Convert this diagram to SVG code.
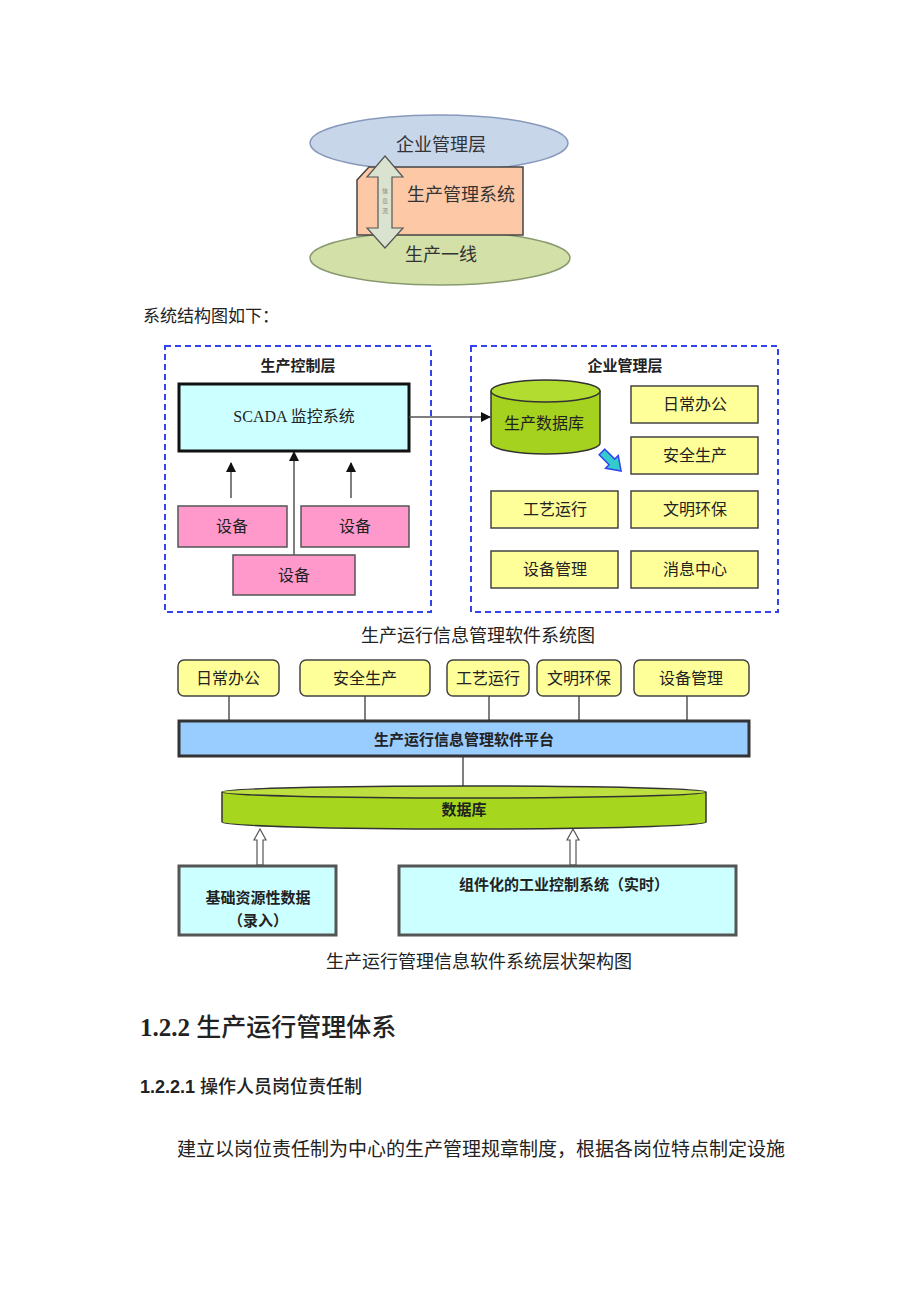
<svg xmlns="http://www.w3.org/2000/svg" width="920" height="1302" viewBox="0 0 920 1302">
<style>
text{font-family:"Liberation Serif","Noto Sans CJK SC",serif;fill:#222}
.c{text-anchor:middle}
.b{font-weight:bold}
.dash{fill:none;stroke:#3344ee;stroke-width:2;stroke-dasharray:6,4}
.pink{fill:#ff99cc;stroke:#555;stroke-width:1.5}
.yel{fill:#ffff99;stroke:#444;stroke-width:1.5}
.cy{fill:#ccffff}
.ln{stroke:#555;stroke-width:1.5;fill:none}
</style>
<defs>
<marker id="ah" markerWidth="10" markerHeight="10" refX="9" refY="5" orient="auto" markerUnits="userSpaceOnUse">
<path d="M0,0 L10,5 L0,10 z" fill="#111"/>
</marker>
</defs>
<rect width="920" height="1302" fill="#fff"/>

<!-- Figure 1 -->
<g id="fig1">
<g id="top-ellipse"><ellipse cx="439" cy="143" rx="129" ry="28" fill="#c8d6ea" stroke="#8899bb" stroke-width="1.5"/>
<text x="441" y="151" class="c" font-size="18" style="fill:#333">企业管理层</text></g>
<g id="bottom-ellipse"><ellipse cx="440" cy="258" rx="130" ry="27" fill="#d3e0a8" stroke="#8a9a70" stroke-width="1.5"/>
<text x="441" y="261" class="c" font-size="18" style="fill:#333">生产一线</text></g>
<g id="block"><polygon points="357,180 369,167 523,167 523,235 357,235" fill="#fcc8a6" stroke="#444" stroke-width="1.5"/>
<text x="461" y="201" class="c" font-size="18" style="fill:#333">生产管理系统</text></g>
<g id="dbl-arrow"><polygon points="385,156 403,177 392,177 392,228 403,228 385,248 367,228 378,228 378,177 367,177" fill="#d9e3cf" stroke="#555" stroke-width="1.2"/>
<text font-size="6" class="c" style="fill:#888"><tspan x="385" y="193">信</tspan><tspan x="385" y="203">息</tspan><tspan x="385" y="213">流</tspan></text></g>
</g>

<text x="143" y="322" font-size="17">系统结构图如下：</text>

<!-- Figure 2 -->
<g id="ctrl-layer">
<rect x="165" y="346" width="266" height="266" class="dash"/>
<text x="298" y="371" class="c b" font-size="15">生产控制层</text>
</g>
<g id="scada"><rect x="179" y="384" width="230" height="67" fill="#ccffff" stroke="#111" stroke-width="3"/>
<text x="294" y="422" class="c" font-size="16">SCADA 监控系统</text></g>
<g id="dev1"><rect x="178" y="506" width="109" height="41" class="pink"/><text x="232" y="532" class="c" font-size="16">设备</text></g>
<g id="dev2"><rect x="301" y="506" width="108" height="41" class="pink"/><text x="355" y="532" class="c" font-size="16">设备</text></g>
<g id="dev3"><rect x="233" y="555" width="122" height="40" class="pink"/><text x="294" y="581" class="c" font-size="16">设备</text></g>

<g id="mgmt-layer">
<rect x="471" y="346" width="307" height="266" class="dash"/>
<text x="625" y="371" class="c b" font-size="15">企业管理层</text>
</g>
<g id="proddb">
<path d="M491,391 L491,443 A54.5,11 0 0 0 600,443 L600,391" fill="#a4d21e" stroke="#333" stroke-width="1.5"/>
<ellipse cx="545.5" cy="391" rx="54.5" ry="11" fill="#b2dc30" stroke="#333" stroke-width="1.5"/>
<text x="544" y="429" class="c" font-size="16">生产数据库</text></g>
<g id="m1"><rect x="631" y="386" width="127" height="37" class="yel"/><text x="695" y="410" class="c" font-size="16">日常办公</text></g>
<g id="m2"><rect x="631" y="437" width="127" height="37" class="yel"/><text x="695" y="461" class="c" font-size="16">安全生产</text></g>
<g id="m3"><rect x="631" y="491" width="127" height="37" class="yel"/><text x="695" y="515" class="c" font-size="16">文明环保</text></g>
<g id="m4"><rect x="631" y="551" width="127" height="37" class="yel"/><text x="695" y="575" class="c" font-size="16">消息中心</text></g>
<g id="m5"><rect x="491" y="491" width="127" height="37" class="yel"/><text x="555" y="515" class="c" font-size="16">工艺运行</text></g>
<g id="m6"><rect x="491" y="551" width="127" height="37" class="yel"/><text x="555" y="575" class="c" font-size="16">设备管理</text></g>

<g id="connectors2">
<line x1="231" y1="498" x2="231" y2="463" class="ln" marker-end="url(#ah)"/>
<line x1="351" y1="498" x2="351" y2="463" class="ln" marker-end="url(#ah)"/>
<line x1="294" y1="555" x2="294" y2="452" class="ln" marker-end="url(#ah)"/>
<line x1="409" y1="417" x2="490" y2="417" class="ln" stroke="#333" marker-end="url(#ah)"/>
<polygon transform="translate(602,452) rotate(45)" points="0,-4 14,-4 14,-9 27,0 14,9 14,4 0,4" fill="#33cccc" stroke="#3344ee" stroke-width="1.5"/>
</g>

<text x="478" y="642" class="c" font-size="18">生产运行信息管理软件系统图</text>

<!-- Figure 3 -->
<g id="connectors3">
<line x1="229" y1="696" x2="229" y2="720" class="ln"/>
<line x1="365" y1="696" x2="365" y2="720" class="ln"/>
<line x1="489" y1="696" x2="489" y2="720" class="ln"/>
<line x1="579" y1="696" x2="579" y2="720" class="ln" stroke="#222"/>
<line x1="687" y1="696" x2="687" y2="720" class="ln"/>
<line x1="463" y1="756" x2="463" y2="786" class="ln"/>
<polygon points="260,829 266,840 263,840 263,865 257,865 257,840 254,840" fill="#fff" stroke="#555" stroke-width="1.2"/>
<polygon points="573,829 579,840 576,840 576,865 570,865 570,840 567,840" fill="#fff" stroke="#555" stroke-width="1.2"/>
</g>
<g id="t1"><rect x="178" y="660" width="101" height="36" rx="6" class="yel"/><text x="228" y="684" class="c" font-size="16">日常办公</text></g>
<g id="t2"><rect x="300" y="660" width="130" height="36" rx="6" class="yel"/><text x="365" y="684" class="c" font-size="16">安全生产</text></g>
<g id="t3"><rect x="447" y="660" width="82" height="36" rx="6" class="yel"/><text x="488" y="684" class="c" font-size="16">工艺运行</text></g>
<g id="t4"><rect x="537" y="660" width="84" height="36" rx="6" class="yel"/><text x="579" y="684" class="c" font-size="16">文明环保</text></g>
<g id="t5"><rect x="634" y="660" width="115" height="36" rx="6" class="yel"/><text x="691" y="684" class="c" font-size="16">设备管理</text></g>
<g id="platform"><rect x="179" y="721" width="570" height="35" fill="#99ccff" stroke="#333" stroke-width="3"/>
<text x="464" y="745" class="c b" font-size="15">生产运行信息管理软件平台</text></g>
<g id="db"><path d="M222,792 L222,822 A242,7 0 0 0 706,822 L706,792" fill="#a6d61e" stroke="#333" stroke-width="1.5"/>
<ellipse cx="464" cy="792" rx="242" ry="6" fill="#bde040" stroke="#333" stroke-width="1.5"/>
<text x="464" y="815" class="c b" font-size="15">数据库</text></g>
<g id="base"><rect x="179" y="866" width="157" height="69" class="cy" stroke="#555" stroke-width="3"/>
<text x="258" y="903" class="c b" font-size="15">基础资源性数据</text>
<text x="258" y="926" class="c b" font-size="15">（录入）</text></g>
<g id="ics"><rect x="399" y="866" width="337" height="69" class="cy" stroke="#555" stroke-width="3"/>
<text x="564" y="890" class="c b" font-size="15">组件化的工业控制系统（实时）</text></g>

<text x="479" y="968" class="c" font-size="18">生产运行管理信息软件系统层状架构图</text>

<text x="140" y="1036" font-size="25" class="b" style="font-family:'Liberation Serif','Noto Sans CJK SC',serif">1.2.2 <tspan style="font-weight:500;font-family:'Noto Sans CJK SC',sans-serif">生产运行管理体系</tspan></text>
<text x="140" y="1093" font-size="18" style="font-family:'Liberation Sans Narrow','Liberation Sans','Noto Sans CJK SC',sans-serif" font-weight="bold">1.2.2.1 <tspan font-weight="500">操作人员岗位责任制</tspan></text>
<text x="177" y="1156" font-size="19">建立以岗位责任制为中心的生产管理规章制度，根据各岗位特点制定设施</text>
</svg>
